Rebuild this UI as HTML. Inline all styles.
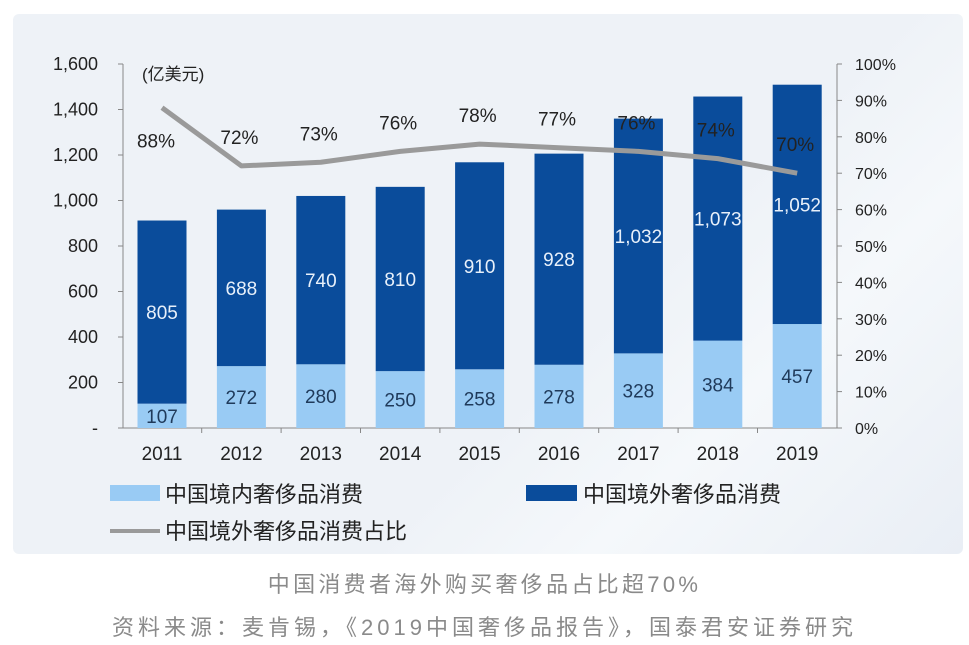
<!DOCTYPE html>
<html><head><meta charset="utf-8"><style>
body{margin:0;width:969px;height:645px;background:#fff;overflow:hidden;font-family:"Liberation Sans","Noto Sans CJK SC",sans-serif}
#panel{position:absolute;left:13px;top:14px;width:950px;height:540px;border-radius:6px;background:linear-gradient(135deg,#eef2f7 0%,#eef2f7 60%,#f5f8fb 75%,#e9eef5 100%)}
.cap{position:absolute;left:0;width:969px;text-align:center;color:#8a8a8a;font-size:22px}
</style></head><body>
<div id="panel"></div>
<svg id="chart" width="969" height="645" style="position:absolute;left:0;top:0"></svg>
<div class="cap" style="top:567px;letter-spacing:3.3px">中国消费者海外购买奢侈品占比超70%</div>
<div class="cap" style="top:610px;letter-spacing:4px">资料来源：麦肯锡，《2019中国奢侈品报告》，国泰君安证券研究</div>
<script>
const years=["2011","2012","2013","2014","2015","2016","2017","2018","2019"];
const domestic=[107,272,280,250,258,278,328,384,457];
const overseas=[805,688,740,810,910,928,1032,1073,1052];
const share=[88,72,73,76,78,77,76,74,70];
const leftTicks=["-","200","400","600","800","1,000","1,200","1,400","1,600"];
const rightTicks=["0%","10%","20%","30%","40%","50%","60%","70%","80%","90%","100%"];
const NS="http://www.w3.org/2000/svg";
const svg=document.getElementById('chart');
const y0=428,yTop=64,xL=123,xR=837;
const yL=v=>y0-(v/1600)*(y0-yTop);
const yR=p=>y0-(p/100)*(y0-yTop);
const xC=i=>162+i*79.4;
const bw=49;
function mk(t,a,txt){const e=document.createElementNS(NS,t);for(const k in a)e.setAttribute(k,a[k]);if(txt!==undefined)e.textContent=txt;svg.appendChild(e);return e;}
let e=mk('line',{x1:xL,y1:yTop,x2:xL,y2:y0,stroke:'#888','stroke-width':1});

e=mk('line',{x1:xR,y1:yTop,x2:xR,y2:y0,stroke:'#888','stroke-width':1});

e=mk('line',{x1:xL,y1:y0,x2:xR,y2:y0,stroke:'#888','stroke-width':1});

leftTicks.forEach((t,i)=>{const y=yL(i*200);
 mk('line',{x1:xL-5,y1:y,x2:xL,y2:y,stroke:'#888'});
 e=mk('text',{x:98,y:y+6,'text-anchor':'end','font-size':18,fill:'#222'},t);
 });
rightTicks.forEach((t,i)=>{const y=yR(i*10);
 mk('line',{x1:xR,y1:y,x2:xR+5,y2:y,stroke:'#888'});
 e=mk('text',{x:855,y:y+6,'font-size':16,fill:'#222'},t);
 });
e=mk('text',{x:142,y:80,'font-size':17,fill:'#222'},'(亿美元)');

years.forEach((yr,i)=>{const x=xC(i);
 if(i>0)mk('line',{x1:x-39.7,y1:y0,x2:x-39.7,y2:y0+5,stroke:'#888'});
 const yd=yL(domestic[i]),yo=yL(domestic[i]+overseas[i]);
 e=mk('rect',{x:x-bw/2,y:yd,width:bw,height:y0-yd,fill:'#99cbf4'});
 
 e=mk('rect',{x:x-bw/2,y:yo,width:bw,height:yd-yo,fill:'#0a4c9b'});
 
 e=mk('text',{x:x,y:(yd+y0)/2+7,'text-anchor':'middle','font-size':19,fill:'#1f3a5a'},domestic[i]);
 
 e=mk('text',{x:x,y:(yd+yo)/2+7,'text-anchor':'middle','font-size':19,fill:'#e8f0fa'},overseas[i].toLocaleString('en-US'));
 
 e=mk('text',{x:x,y:460,'text-anchor':'middle','font-size':19,fill:'#222'},yr);
 
});
let pts=share.map((p,i)=>xC(i)+','+yR(p)).join(' ');
e=mk('polyline',{points:pts,fill:'none',stroke:'#9a9a9a','stroke-width':5,'stroke-linejoin':'round'});

share.forEach((p,i)=>{const x=xC(i)-(i==0?6:2);const y=i==0?yR(p)+40:yR(p)-22;
 e=mk('text',{x:x,y:y,'text-anchor':'middle','font-size':19,fill:'#222'},p+'%');
 });
e=mk('rect',{x:110,y:485,width:50,height:16,fill:'#99cbf4'});

e=mk('text',{x:165,y:502,'font-size':22,fill:'#222'},'中国境内奢侈品消费');

e=mk('rect',{x:526,y:485,width:51,height:16,fill:'#0a4c9b'});

e=mk('text',{x:583,y:502,'font-size':22,fill:'#222'},'中国境外奢侈品消费');

e=mk('line',{x1:110,y1:531,x2:160,y2:531,stroke:'#9a9a9a','stroke-width':4});

e=mk('text',{x:165,y:539,'font-size':22,fill:'#222'},'中国境外奢侈品消费占比');

</script>
</body></html>
